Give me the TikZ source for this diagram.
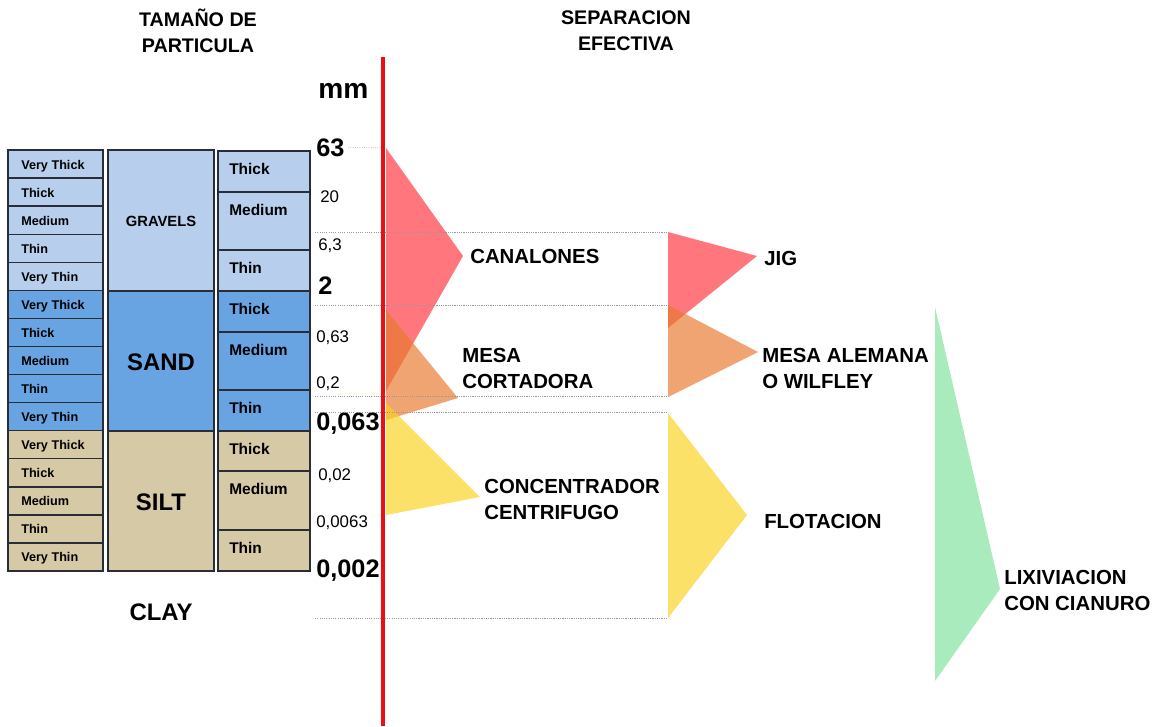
\documentclass[tikz,border=0pt]{standalone}
\usepackage{fontspec}
\setmainfont{Liberation Sans}

\definecolor{gravelblue}{RGB}{183,207,236}
\definecolor{sandblue}{RGB}{104,163,226}
\definecolor{silttan}{RGB}{214,201,166}
\definecolor{boxline}{RGB}{40,45,55}
\definecolor{canred}{RGB}{255,52,60}
\definecolor{mesaorange}{RGB}{232,120,45}
\definecolor{conyellow}{RGB}{250,210,30}
\definecolor{lixgreen}{RGB}{127,225,157}
\definecolor{axisred}{RGB}{235,15,20}

\tikzset{
  cell/.style={draw=boxline, line width=1pt},
  finetext/.style={font=\fontsize{9}{10}\selectfont\bfseries, inner sep=0pt, anchor=base west},
  coarsetext/.style={font=\fontsize{11}{13}\selectfont\bfseries, inner sep=0pt, anchor=base west},
  classtext/.style={font=\fontsize{17}{20}\selectfont\bfseries, inner sep=0pt, anchor=base},
  ticktext/.style={font=\fontsize{12}{14}\selectfont, inner sep=0pt, anchor=base west},
  majortick/.style={font=\fontsize{18}{20}\selectfont\bfseries, inner sep=0pt, anchor=base west},
  method/.style={font=\fontsize{14.5}{18.5}\selectfont\bfseries, align=left, inner sep=0pt, anchor=west},
  heading/.style={font=\fontsize{14}{18.5}\selectfont\bfseries, align=center, inner sep=0pt},
  sepzone/.style={fill opacity=0.67},
  guide/.style={gray!80, line width=0.6pt, dash pattern=on 0.8pt off 0.8pt},
}

\begin{document}
\begin{tikzpicture}[x=0.025cm, y=-0.025cm]
\useasboundingbox (0,0) rectangle (1158,726);

% headings
\node (tamano)[heading] at (198,31) {TAMAÑO DE\\PARTICULA};
\node (separacion)[heading] at (626,31) {SEPARACION\\EFECTIVA};

% fine classes
\foreach \fillc [count=\g from 0] in {gravelblue,sandblue,silttan} {
  \foreach \size [count=\r from 0] in {Very Thick,Thick,Medium,Thin,Very Thin} {
    \pgfmathsetmacro{\ytop}{150+(5*\g+\r)*28.07}
    \draw[cell, fill=\fillc] (8,\ytop) rectangle (103,\ytop+28.07);
    \node (fine\g\r)[finetext] at (21,\ytop+19) {\size};
  }
}

% main classes
\draw[cell, fill=gravelblue] (108,150) rectangle (214,291);
\draw[cell, fill=sandblue] (108,291) rectangle (214,431);
\draw[cell, fill=silttan] (108,431) rectangle (214,571);
\node (gravels)[classtext, font=\fontsize{10.5}{12}\selectfont\bfseries] at (161,226) {GRAVELS};
\node (sand)[classtext] at (161,370) {SAND};
\node (silt)[classtext] at (161,510) {SILT};
\node (clay)[classtext] at (161,620) {CLAY};

% coarse classes
\foreach \ya/\yb/\txt/\fillc in {151/192/Thick/gravelblue, 192/250/Medium/gravelblue, 250/291/Thin/gravelblue,
    291/332/Thick/sandblue, 332/390/Medium/sandblue, 390/431/Thin/sandblue,
    431/471/Thick/silttan, 471/530/Medium/silttan, 530/571/Thin/silttan} {
  \draw[cell, fill=\fillc] (218,\ya) rectangle (310,\yb);
  \node (coarse\ya)[coarsetext] at (229,\ya+23) {\txt};
}

% scale
\node (mm)[majortick, font=\fontsize{20}{22}\selectfont\bfseries] at (318,98) {mm};
\node (t63)[majortick] at (316,156) {63};
\node (t20)[ticktext] at (320,202) {20};
\node (t6)[ticktext] at (318,250) {6,3};
\node (t2)[majortick] at (318,294) {2};
\node (t063)[ticktext] at (316,342) {0,63};
\node (t02)[ticktext] at (316,388) {0,2};
\node (t0063)[majortick] at (316,430) {0,063};
\node (t002)[ticktext] at (318,480) {0,02};
\node (t00063)[ticktext] at (316,527) {0,0063};
\node (t0002)[majortick] at (316,577) {0,002};

% separation zones
\fill[sepzone, canred] (386,148) -- (463,256) -- (386,391) -- cycle;
\fill[sepzone, mesaorange] (386,310) -- (458,398) -- (386,420) -- cycle;
\fill[sepzone, conyellow] (386,403) -- (480,497) -- (386,515) -- cycle;
\fill[sepzone, canred] (668,232) -- (757,256) -- (668,328) -- cycle;
\fill[sepzone, mesaorange] (668,305) -- (758,352) -- (668,397) -- cycle;
\fill[sepzone, conyellow] (668,413) -- (747,515) -- (668,618) -- cycle;
\fill[sepzone, lixgreen] (935,307) -- (1000,589) -- (935,681) -- cycle;

% limits
\draw[guide, red!25] (348,147) -- (383,147);
\draw[guide, yellow!40] (340,393) -- (383,393);
\draw[guide, yellow!40] (373,515) -- (383,515);
\foreach \yl in {232,305,396,412,618}
  \draw[guide] (315,\yl) -- (667,\yl);

% axis
\draw[axisred, line width=2.8pt] (383,57) -- (383,726);

% methods
\node (canalones)[method] at (470,256) {CANALONES};
\node (cortadora)[method] at (462,368) {MESA\\CORTADORA};
\node (centrifugo)[method] at (484,499) {CONCENTRADOR\\CENTRIFUGO};
\node (jig)[method] at (764,258) {JIG};
\node (wilfley)[method] at (762,368) {MESA ALEMANA\\O WILFLEY};
\node (flotacion)[method] at (764,521) {FLOTACION};
\node (cianuro)[method] at (1004,590) {LIXIVIACION\\CON CIANURO};

\end{tikzpicture}
\end{document}
